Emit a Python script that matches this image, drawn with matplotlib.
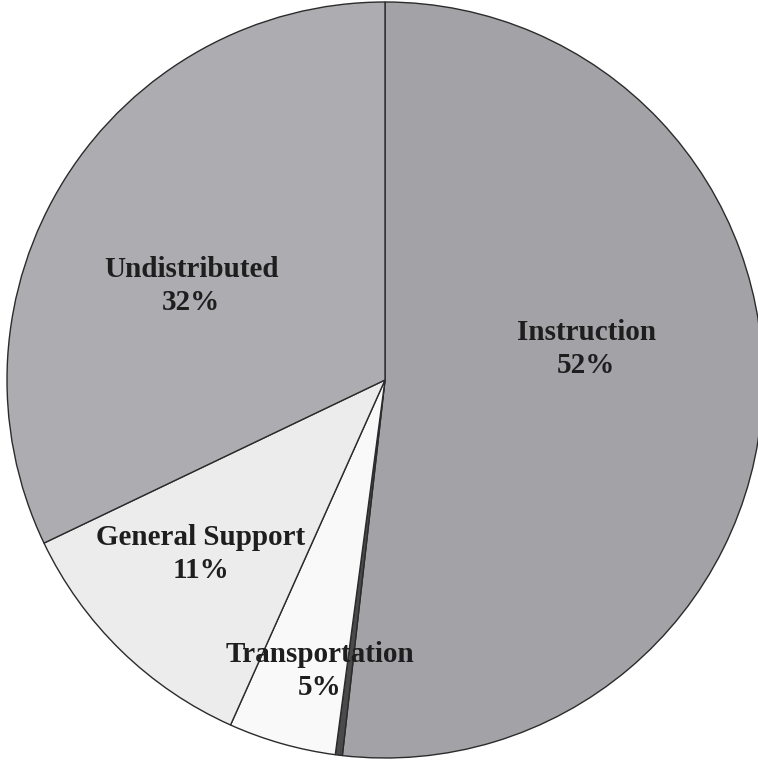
import numpy as np
import matplotlib
matplotlib.use("Agg")
import matplotlib.pyplot as plt

categories = ["Instruction", "Other", "Transportation", "General Support", "Undistributed"]
shares = [51.8, 0.3, 4.6, 11.2, 32.1]
pct_labels = ["52%", "", "5%", "11%", "32%"]
slice_colors = ["#a3a3a7", "#4a4a4a", "#f9f9f9", "#ececec", "#adadb1"]

# label offsets inside the pie (axes units, radius = 1)
label_pos = {
    "Instruction": (0.532, 0.082),
    "Transportation": (-0.172, -0.770),
    "General Support": (-0.487, -0.460),
    "Undistributed": (-0.513, 0.249),
}

fig = plt.figure(figsize=(7.58, 7.61), dpi=100)
ax = fig.add_axes([7 / 758, 3 / 761, 756 / 758, 756 / 761])

wedges, _ = ax.pie(shares, colors=slice_colors, startangle=90, counterclock=False,
                   radius=1, wedgeprops=dict(edgecolor="#2b2b2b", linewidth=1.0))

for name, pct in zip(categories, pct_labels):
    if name not in label_pos:
        continue
    x, y = label_pos[name]
    ax.text(x, y, f"{name}\n{pct}", ha="center", va="center", multialignment="center",
            family="Liberation Serif", fontweight="bold", fontsize=21,
            color="#1e1e1e", linespacing=1.3)

ax.set_xlim(-1, 1)
ax.set_ylim(-1, 1)
ax.set_aspect("equal")
ax.axis("off")

fig.savefig("out.png", dpi=100)
